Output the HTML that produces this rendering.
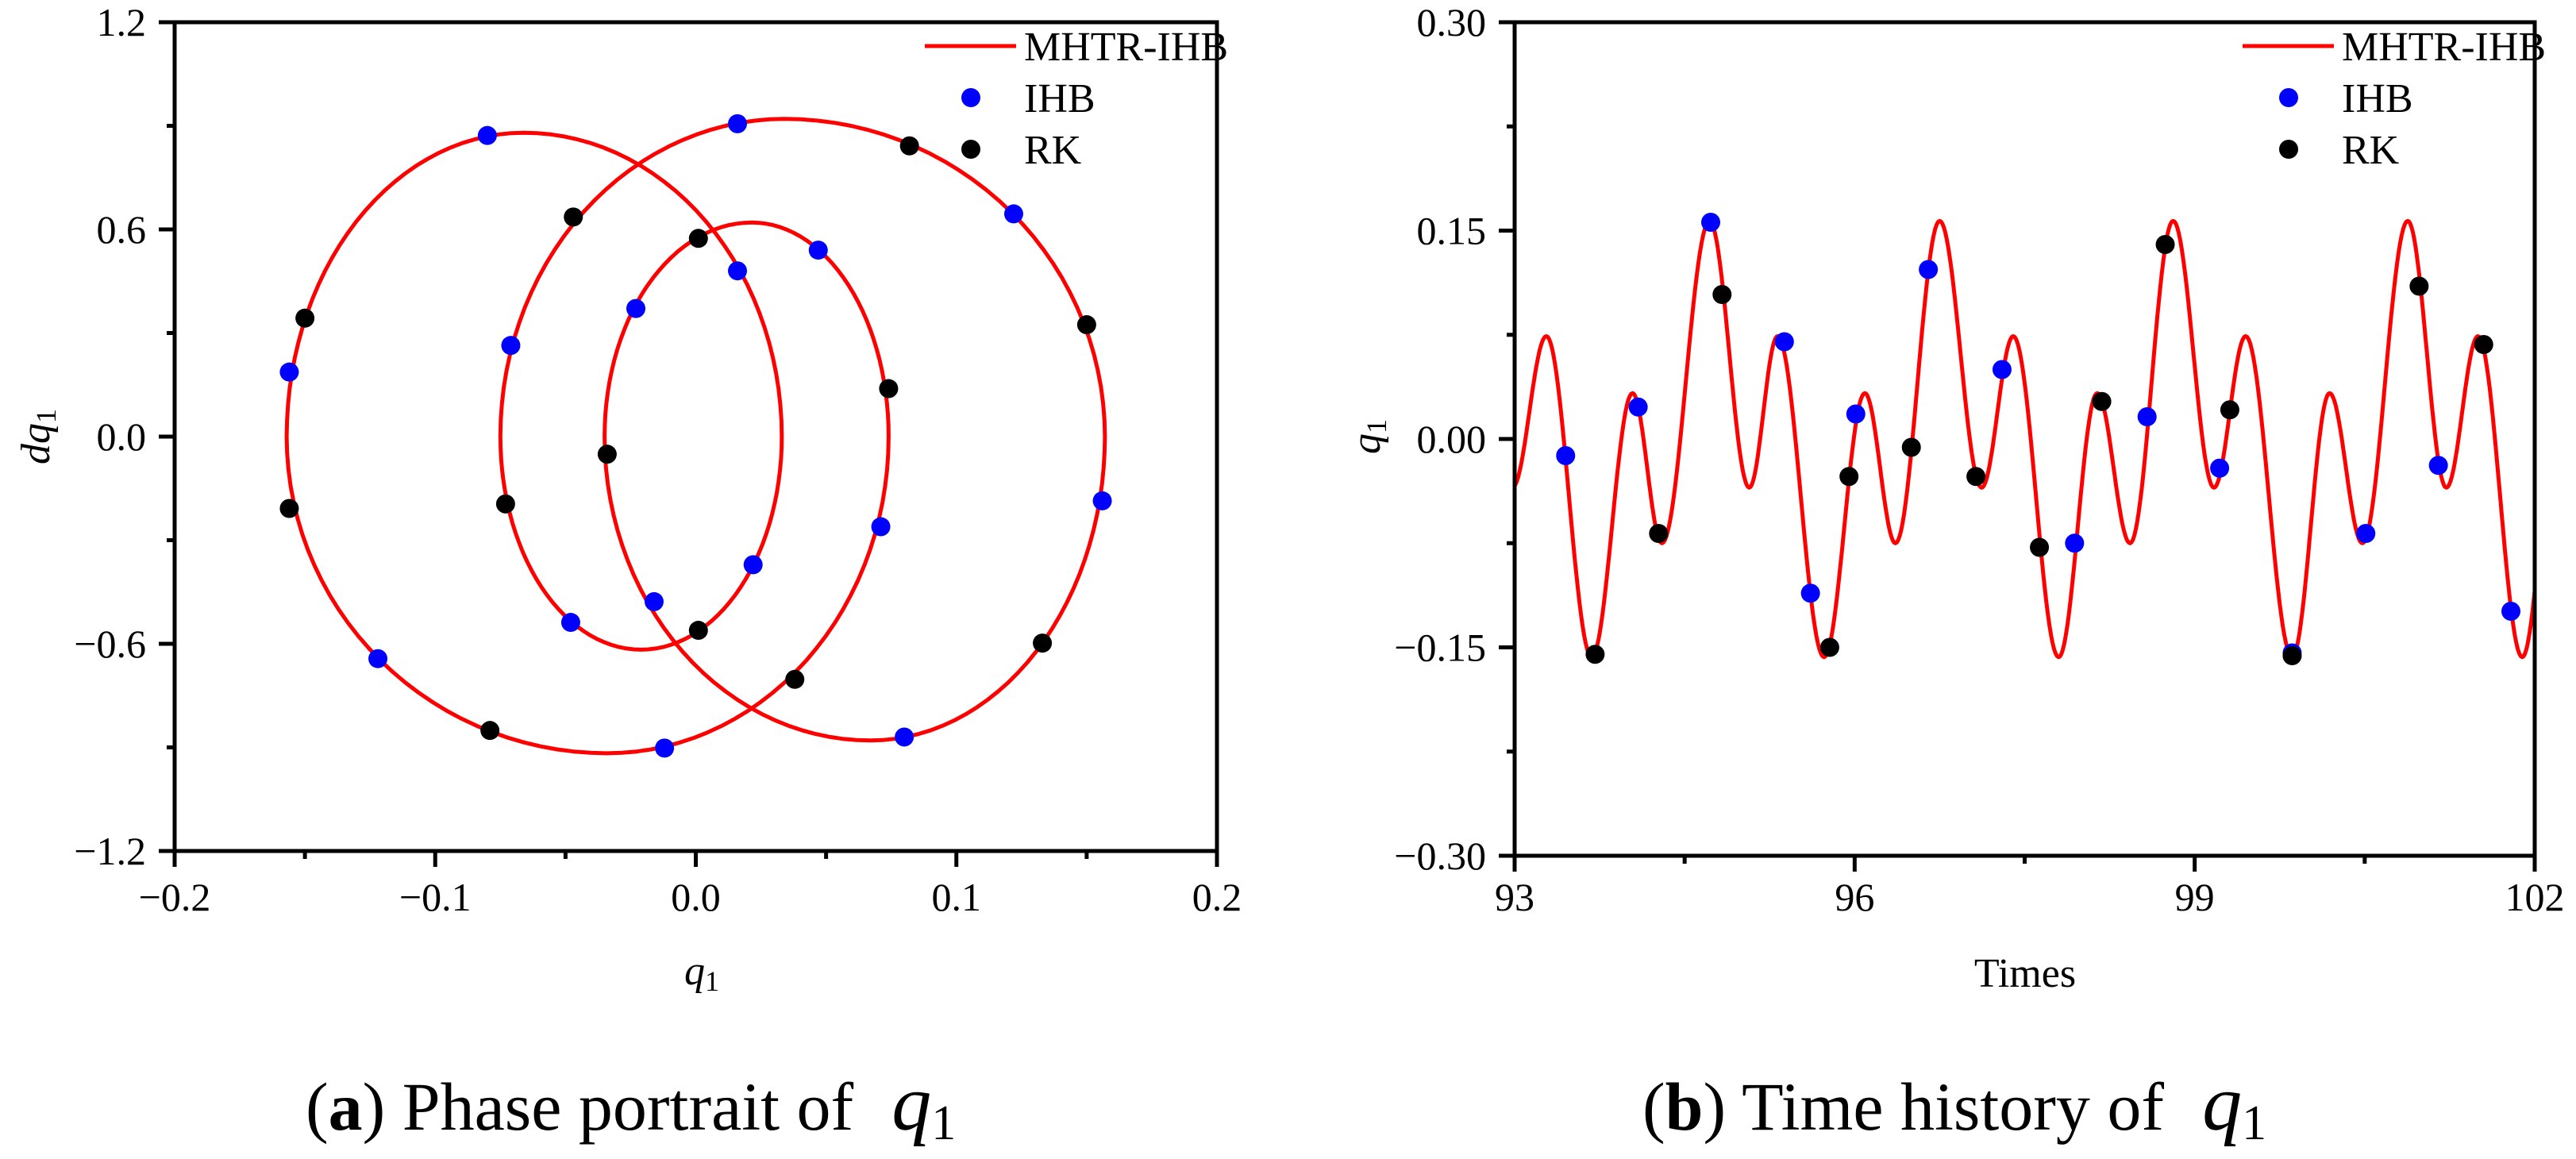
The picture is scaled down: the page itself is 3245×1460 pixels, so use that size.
<!DOCTYPE html>
<html><head><meta charset="utf-8"><style>
html,body{margin:0;padding:0;background:#fff;}
svg{display:block;}
text{font-family:"Liberation Serif",serif;fill:#000;}
</style></head><body>
<svg id="fig" width="3245" height="1460" viewBox="0 0 3245 1460" xmlns="http://www.w3.org/2000/svg">
<g id="pA"></g>
<g id="pB"></g>
<text x="385" y="1423" font-size="86">(<tspan font-weight="bold">a</tspan>) Phase portrait of<tspan dx="48" font-style="italic" font-size="100">q</tspan><tspan font-size="62" dy="12">1</tspan></text>
<text x="2069" y="1423" font-size="86">(<tspan font-weight="bold">b</tspan>) Time history of<tspan dx="48" font-style="italic" font-size="100">q</tspan><tspan font-size="62" dy="12">1</tspan></text>
</svg>
<script>
// ---------- Phase portrait data (arcs in trajectory order) ----------
const arcStartQ = [-0.035, 0.074, -0.157, 0.033, -0.075, 0.157];
const arcPeakQ  = [0.0215, -0.034, -0.066, -0.021, 0.034, 0.067];
const arcPeakDq = [0.62, -0.917, 0.88, -0.617, 0.92, -0.88];
const arcEndQ   = [0.074, -0.157, 0.033, -0.075, 0.157, -0.035];
const phaseIhbQ  = [-0.080,0.016,0.122,0.047,0.016,-0.023,-0.071,-0.156,0.156,0.071,0.022,-0.016,-0.048,-0.122,0.080,-0.012];
const phaseIhbDq = [0.872,0.906,0.645,0.540,0.480,0.371,0.264,0.187,-0.186,-0.261,-0.371,-0.478,-0.538,-0.643,-0.870,-0.902];
const phaseRkQ  = [0.082,-0.047,0.001,-0.150,0.150,0.074,-0.034,-0.073,-0.156,0.001,0.133,0.038,-0.079];
const phaseRkDq = [0.842,0.636,0.574,0.343,0.324,0.139,-0.051,-0.195,-0.208,-0.561,-0.598,-0.703,-0.851];
const phaseXTicks = [-0.2,-0.1,0.0,0.1,0.2];
const phaseXTickLabels = ["\u22120.2","\u22120.1","0.0","0.1","0.2"];
const phaseYTicks = [-1.2,-0.6,0.0,0.6,1.2];
const phaseYTickLabels = ["\u22121.2","\u22120.6","0.0","0.6","1.2"];

// ---------- Time history data ----------
const extT = [92.98,93.28,93.68,94.04,94.30,94.72,95.07,95.32,95.73,96.09,96.36,96.75,97.12,97.40,97.80,98.14,98.43,98.81,99.17,99.45,99.86,100.19,100.48,100.88,101.22,101.50,101.89,102.22];
const extQ = [-0.035,0.074,-0.157,0.033,-0.075,0.157,-0.035,0.074,-0.157,0.033,-0.075,0.157,-0.035,0.074,-0.157,0.033,-0.075,0.157,-0.035,0.074,-0.157,0.033,-0.075,0.157,-0.035,0.074,-0.157,0.033];
const timeIhbT = [93.45,94.09,94.73,95.38,95.61,96.01,96.65,97.30,97.94,98.58,99.22,99.86,100.51,101.15,101.79];
const timeIhbQ = [-0.012,0.023,0.156,0.070,-0.111,0.018,0.122,0.050,-0.075,0.016,-0.021,-0.154,-0.068,-0.019,-0.124];
const timeRkT = [93.71,94.27,94.83,95.78,95.95,96.50,97.07,97.63,98.18,98.74,99.31,99.86,100.98,101.55];
const timeRkQ = [-0.155,-0.068,0.104,-0.150,-0.027,-0.006,-0.027,-0.078,0.027,0.140,0.021,-0.156,0.110,0.068];
const timeXTicks = [93,96,99,102];
const timeXTickLabels = ["93","96","99","102"];
const timeYTicks = [-0.30,-0.15,0.00,0.15,0.30];
const timeYTickLabels = ["\u22120.30","\u22120.15","0.00","0.15","0.30"];

const NS = "http://www.w3.org/2000/svg";
function mk(tag, attrs, parent){const e=document.createElementNS(NS,tag);for(const k in attrs)e.setAttribute(k,attrs[k]);parent.appendChild(e);return e;}

function buildPanel(g, o){
  const L=o.L,R=o.R,T=o.T,B=o.B;
  const sx=v=>L+(v-o.x0)/(o.x1-o.x0)*(R-L);
  const sy=v=>B-(v-o.y0)/(o.y1-o.y0)*(B-T);
  const cp=mk('clipPath',{id:o.id+'clip'},g);
  mk('rect',{x:L,y:T,width:R-L,height:B-T},cp);
  const d=o.curve(sx,sy);
  const curve=mk('path',{d:d,fill:'none',stroke:'#ff0000','stroke-width':5,'stroke-linejoin':'round','clip-path':'url(#'+o.id+'clip)'},g);
  
  
  o.ihbX.forEach((v,i)=>{const c=mk('circle',{cx:sx(v),cy:sy(o.ihbY[i]),r:12,fill:'#0000ff'},g);
    
    });
  o.rkX.forEach((v,i)=>{const c=mk('circle',{cx:sx(v),cy:sy(o.rkY[i]),r:12,fill:'#000'},g);
    
    });
  const fr=mk('rect',{x:L,y:T,width:R-L,height:B-T,fill:'none',stroke:'#000','stroke-width':5},g);
  
  
  o.xt.forEach((v,i)=>{const x=sx(v);
    mk('line',{x1:x,y1:B,x2:x,y2:B+20,stroke:'#000','stroke-width':5},g);
    if(i<o.xt.length-1){const xm=sx((v+o.xt[i+1])/2);mk('line',{x1:xm,y1:B,x2:xm,y2:B+10,stroke:'#000','stroke-width':5},g);}
    const t=mk('text',{x:x,y:1147,'font-size':50,'text-anchor':'middle'},g);t.textContent=o.xtl[i];
    
    });
  o.yt.forEach((v,i)=>{const y=sy(v);
    mk('line',{x1:L-20,y1:y,x2:L,y2:y,stroke:'#000','stroke-width':5},g);
    if(i<o.yt.length-1){const ym=sy((v+o.yt[i+1])/2);mk('line',{x1:L-10,y1:ym,x2:L,y2:ym,stroke:'#000','stroke-width':5},g);}
    const t=mk('text',{x:L-36,y:y+17,'font-size':50,'text-anchor':'end'},g);t.textContent=o.ytl[i];
    
    });
  const lx=R-368, ly=T+30;
  const ll=mk('line',{x1:lx,y1:ly,x2:lx+115,y2:ly,stroke:'#ff0000','stroke-width':5},g);
  
  
  const names=['MHTR-IHB','IHB','RK'];
  names.forEach((n,i)=>{const t=mk('text',{x:lx+125,y:ly+18+i*65,'font-size':52},g);t.textContent=n;
    
    });
  const c1=mk('circle',{cx:lx+58,cy:ly+65,r:12,fill:'#0000ff'},g);
  
  
  const c2=mk('circle',{cx:lx+58,cy:ly+130,r:12,fill:'#000'},g);
  
  
}

function phaseCurve(sx,sy){
  let d='';
  for(let k=0;k<arcStartQ.length;k++){
    const q0=arcStartQ[k],qp=arcPeakQ[k],dp=arcPeakDq[k],q1=arcEndQ[k];
    for(let j=(k===0?0:1);j<=60;j++){
      const th=Math.PI*j/60; let q,dq;
      if(th<=Math.PI/2){q=qp+(q0-qp)*Math.cos(th);dq=dp*Math.sin(th);}
      else{q=qp+(qp-q1)*Math.cos(th);dq=dp*Math.sin(th);}
      d+=(d===''?'M':'L')+sx(q).toFixed(1)+','+sy(dq).toFixed(1);
    }
  }
  return d+'Z';
}
function timeCurve(sx,sy){
  let d='';
  for(let k=0;k<extT.length-1;k++){
    const t0=extT[k],t1=extT[k+1],a=extQ[k],b=extQ[k+1];
    for(let j=(k===0?0:1);j<=30;j++){
      const u=j/30,t=t0+(t1-t0)*u,q=a+(b-a)*(1-Math.cos(Math.PI*u))/2;
      d+=(d===''?'M':'L')+sx(t).toFixed(1)+','+sy(q).toFixed(1);
    }
  }
  return d;
}

buildPanel(document.getElementById('pA'),{id:'a',L:220,R:1533,T:28,B:1072,x0:-0.2,x1:0.2,y0:-1.2,y1:1.2,
  curve:phaseCurve,ihbX:phaseIhbQ,ihbY:phaseIhbDq,rkX:phaseRkQ,rkY:phaseRkDq,
  xt:phaseXTicks,xtl:phaseXTickLabels,yt:phaseYTicks,ytl:phaseYTickLabels});
buildPanel(document.getElementById('pB'),{id:'b',L:1908,R:3193,T:28,B:1078,x0:93,x1:102,y0:-0.30,y1:0.30,
  curve:timeCurve,ihbX:timeIhbT,ihbY:timeIhbQ,rkX:timeRkT,rkY:timeRkQ,
  xt:timeXTicks,xtl:timeXTickLabels,yt:timeYTicks,ytl:timeYTickLabels});

const svg=document.getElementById('fig');
let t=mk('text',{x:862,y:1240,'font-size':52},svg);
t.innerHTML='<tspan font-style="italic">q</tspan><tspan font-size="36" dy="8">1</tspan>';


t=mk('text',{x:0,y:0,'font-size':52,transform:'translate(62,585) rotate(-90)'},svg);
t.innerHTML='<tspan font-style="italic">dq</tspan><tspan font-size="36" dy="8">1</tspan>';


t=mk('text',{x:2551,y:1243,'font-size':52,'text-anchor':'middle'},svg);
t.textContent='Times';


t=mk('text',{x:0,y:0,'font-size':52,transform:'translate(1738,572) rotate(-90)'},svg);
t.innerHTML='<tspan font-style="italic">q</tspan><tspan font-size="36" dy="8">1</tspan>';


</script>
</body></html>
